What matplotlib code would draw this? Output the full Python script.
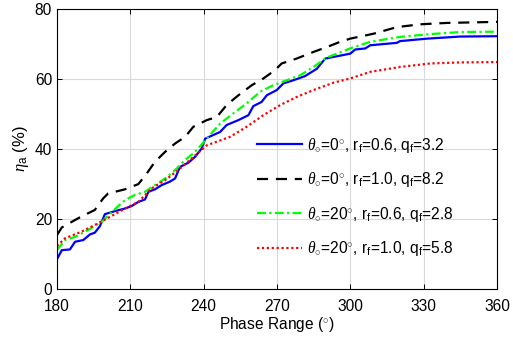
"""Aperture efficiency vs phase range"""
import matplotlib
matplotlib.use("Agg")
import matplotlib.pyplot as plt

plt.rcParams["font.family"] = ["Liberation Sans", "DejaVu Sans"]
plt.rcParams["mathtext.fontset"] = "custom"
plt.rcParams["mathtext.rm"] = "Liberation Sans"
plt.rcParams["mathtext.it"] = "Liberation Serif:italic"
plt.rcParams["mathtext.bf"] = "Liberation Sans:bold"

# theta=0, rf=0.6, qf=3.2 (blue solid)
x_blue = [180, 182, 185.3, 187.4, 190.8, 193.5, 195.5, 197.6, 199.6, 204.4,
          207.8, 210.5, 213.3, 216, 217.4, 220.1, 222.8, 226.2, 228.3, 230.3,
          233.7, 236.5, 239.2, 240.6, 246.7, 249.4, 254.2, 258.3, 260.3, 263.7,
          265.8, 269.9, 272.6, 276.7, 281.5, 286.3, 289.7, 299.9, 302, 306.1,
          308.1, 319, 320.3, 331.3, 344.9, 360]
y_blue = [8.5, 11.1, 11.3, 13.5, 14.0, 15.6, 16.1, 18.0, 21.4, 22.4,
          23.0, 23.7, 24.9, 25.6, 27.8, 28.5, 29.7, 30.7, 31.6, 34.9,
          36.1, 37.8, 40.2, 43.0, 44.9, 46.9, 48.3, 49.7, 52.3, 53.5,
          55.4, 56.9, 58.8, 59.7, 60.9, 63.0, 65.9, 67.3, 68.5, 68.8,
          69.7, 70.4, 70.9, 71.6, 72.2, 72.3]

# theta=0, rf=1.0, qf=8.2 (black dashed)
x_black = [180, 182, 185.3, 189.4, 195.5, 198.9, 200.9, 207.8, 213.3, 216.7,
           220.1, 224.2, 228.3, 232.4, 235.8, 241.3, 245.4, 249.4, 254.2, 259.7,
           264.4, 269.2, 271.9, 278, 284.9, 290.4, 295.1, 299.9, 309.4, 319,
           328.5, 339.5, 360]
y_black = [15.4, 17.6, 18.9, 20.5, 22.6, 25.9, 27.3, 28.5, 30.0, 33.0,
           36.4, 39.2, 41.6, 43.5, 46.4, 48.3, 49.2, 52.6, 55.4, 58.3,
           60.2, 62.6, 64.5, 65.9, 67.8, 69.2, 70.5, 71.6, 73.0, 74.9,
           75.7, 76.1, 76.4]

# theta=20, rf=0.6, qf=2.8 (green dash-dot)
x_green = [180, 183.3, 187.4, 192.8, 198.3, 203, 207.8, 211.9, 216, 220.1,
           224.2, 227.6, 232.4, 236.5, 240.6, 246.7, 252.1, 257.6, 263.1, 268.5,
           274, 279.4, 284.9, 290.4, 299.9, 308.1, 320.3, 332.6, 344.9, 360]
y_green = [11.1, 14.0, 14.9, 16.9, 19.2, 22.4, 25.4, 26.9, 27.8, 29.7,
           31.6, 33.5, 36.9, 39.2, 42.5, 47.3, 50.2, 53.1, 56.4, 58.3,
           59.7, 61.1, 63.5, 66.2, 68.8, 70.7, 72.1, 72.9, 73.5, 73.6]

# theta=20, rf=1.0, qf=5.8 (red dotted)
x_red = [180, 183.3, 190.1, 196.9, 202.4, 207.8, 213.3, 218.8, 224.2, 229.6,
         234.4, 241.3, 250.8, 257.6, 264.4, 271.3, 278, 284.9, 293.1, 299.9,
         308.1, 320.3, 332.6, 345, 360]
y_red = [12.3, 14.5, 16.4, 18.8, 20.9, 23.0, 24.9, 28.8, 31.1, 34.0,
         36.9, 41.1, 43.5, 46.4, 49.7, 52.6, 54.9, 56.9, 59.0, 60.2,
         62.1, 63.5, 64.5, 64.8, 64.9]

labels = [
    r"$\theta_{\circ}$=0$^{\circ}$, r$_{\rm f}$=0.6, q$_{\rm f}$=3.2",
    r"$\theta_{\circ}$=0$^{\circ}$, r$_{\rm f}$=1.0, q$_{\rm f}$=8.2",
    r"$\theta_{\circ}$=20$^{\circ}$, r$_{\rm f}$=0.6, q$_{\rm f}$=2.8",
    r"$\theta_{\circ}$=20$^{\circ}$, r$_{\rm f}$=1.0, q$_{\rm f}$=5.8",
]

fig = plt.figure(figsize=(5.13, 3.44), dpi=100)
ax = fig.add_axes([0.111, 0.160, 0.858, 0.813])

ax.plot(x_blue, y_blue, color="#0000ff", lw=1.6, label=labels[0])
ax.plot(x_black, y_black, color="black", lw=1.6, dashes=(5, 3.5), label=labels[1])
ax.plot(x_green, y_green, color="#00ff00", lw=1.6, dashes=(4, 1.5, 1, 1.5),
        label=labels[2])
ax.plot(x_red, y_red, color="#ff0000", lw=1.6, linestyle=(0, (1, 1.2)),
        label=labels[3])

ax.set_xlim(180, 360)
ax.set_ylim(0, 80)
ax.set_xticks(range(180, 361, 30))
ax.set_yticks(range(0, 81, 20))
ax.grid(True, color="#d9d9d9", lw=0.8)
ax.tick_params(direction="in", top=True, right=True, labelsize=11.2,
               length=3.5, width=0.7)
ax.tick_params(axis="x", pad=7)
for s in ax.spines.values():
    s.set_linewidth(0.8)

ax.set_xlabel(r"Phase Range ($^{\circ}$)", fontsize=11.2, labelpad=1)
ax.set_ylabel(r"$\eta_{\rm a}$ (%)", fontsize=12, labelpad=3)

ax.legend(loc="upper left", bbox_to_anchor=(0.44, 0.57), frameon=False,
          fontsize=11.2, handlelength=2.9, handletextpad=0.3,
          labelspacing=1.0, borderaxespad=0)

fig.savefig("out.png", dpi=100)
